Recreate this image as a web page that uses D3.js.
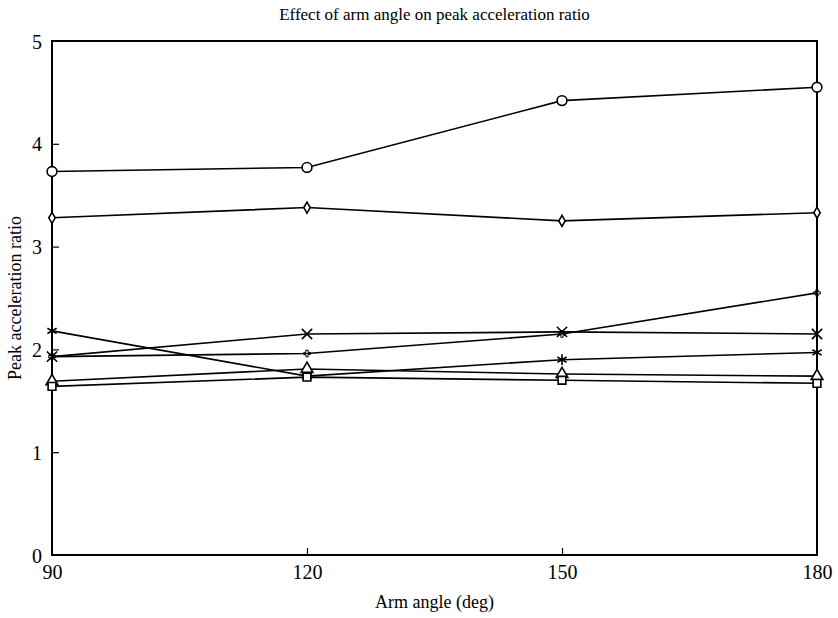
<!DOCTYPE html>
<html>
<head>
<meta charset="utf-8">
<script src="https://cdn.jsdelivr.net/npm/d3@7"></script>
<style>
  body { margin: 0; background: #fff; }
  text { font-family: "Liberation Serif", "DejaVu Serif", serif; fill: #000; }
</style>
</head>
<body>
<div id="chart"></div>
<script>
// Data
const angles = [90, 120, 150, 180];
const circleVals   = [3.73, 3.77, 4.42, 4.55];
const diamondVals  = [3.28, 3.38, 3.25, 3.33];
const crossVals    = [1.93, 2.15, 2.17, 2.15];
const plusVals     = [1.93, 1.96, 2.15, 2.55];
const starVals     = [2.18, 1.74, 1.90, 1.97];
const triangleVals = [1.69, 1.81, 1.76, 1.74];
const squareVals   = [1.64, 1.73, 1.70, 1.67];
const yTicks = [0, 1, 2, 3, 4, 5];
const xTicks = [90, 120, 150, 180];

const series = [
  { name: "circle", vals: circleVals },
  { name: "diamond", vals: diamondVals },
  { name: "cross", vals: crossVals },
  { name: "plus", vals: plusVals },
  { name: "star", vals: starVals },
  { name: "triangle", vals: triangleVals },
  { name: "square", vals: squareVals }
];

// Layout
let margin = { top: 41, right: 21, bottom: 63, left: 52 };
let svgWidth = 838, svgHeight = 618;
let chartWidth = svgWidth - margin.left - margin.right;
let chartHeight = svgHeight - margin.top - margin.bottom;

let svg = d3.select('#chart')
            .append('svg')
            .attr('width', svgWidth)
            .attr('height', svgHeight);

let chartGrp = svg.append('g')
            .attr('transform', `translate(${margin.left}, ${margin.top})`);

let xScale = d3.scaleLinear().domain([90, 180]).range([0, chartWidth]);
let yScale = d3.scaleLinear().domain([0, 5]).range([chartHeight, 0]);

// Axes with inward ticks
let xAxis = d3.axisBottom(xScale).tickValues(xTicks).tickSize(-7).tickPadding(13).tickFormat(d3.format('d'));
let yAxis = d3.axisLeft(yScale).tickValues(yTicks).tickSize(-7).tickPadding(10).tickFormat(d3.format('d'));

let gx = chartGrp.append('g')
    .attr('transform', `translate(0, ${chartHeight})`)
    .call(xAxis);
let gy = chartGrp.append('g').call(yAxis);

[gx, gy].forEach(g => {
  g.select('.domain').remove();
  g.selectAll('.tick line').attr('stroke', '#000').attr('stroke-width', 1.2);
  g.selectAll('.tick text').attr('font-size', 20).attr('font-family', '"Liberation Serif", serif');
});
gx.selectAll('.tick text').attr('dy', '0.55em');
gy.selectAll('.tick text').attr('dy', '0.35em');
// hide end ticks on the frame corners
gx.selectAll('.tick line').filter(d => d === 90 || d === 180).remove();
gy.selectAll('.tick line').filter(d => d === 0 || d === 5).remove();

// Frame
chartGrp.append('rect')
    .attr('x', 0).attr('y', 0)
    .attr('width', chartWidth).attr('height', chartHeight)
    .attr('fill', 'none')
    .attr('stroke', '#000')
    .attr('stroke-width', 2);

// Lines
let line = d3.line()
    .x((d, i) => xScale(angles[i]))
    .y(d => yScale(d));

chartGrp.selectAll('.series')
    .data(series)
    .enter()
    .append('path')
    .attr('class', 'series')
    .attr('d', d => line(d.vals))
    .attr('fill', 'none')
    .attr('stroke', '#000')
    .attr('stroke-width', 1.6);

// Markers
const symbolMap = {
  circle: d3.symbolCircle,
  diamond: d3.symbolDiamond,
  cross: d3.symbolX,
  plus: d3.symbolCross,
  star: d3.symbolAsterisk,
  triangle: d3.symbolTriangle,
  square: d3.symbolSquare
};
const sizeMap = { circle: 75, diamond: 35, cross: 70, plus: 25, star: 80, triangle: 60, square: 60 };
const openSyms = ['circle', 'diamond', 'triangle', 'square'];

series.forEach(s => {
  chartGrp.selectAll(`.m-${s.name}`)
      .data(s.vals)
      .enter()
      .append('path')
      .attr('class', `m-${s.name}`)
      .attr('transform', (d, i) => `translate(${xScale(angles[i])}, ${yScale(d)})`)
      .attr('d', d3.symbol().type(symbolMap[s.name]).size(sizeMap[s.name]))
      .attr('fill', openSyms.includes(s.name) ? '#fff' : 'none')
      .attr('stroke', '#000')
      .attr('stroke-width', s.name === 'plus' ? 1 : 1.6);
});

// Title and labels
svg.append('text')
    .attr('x', margin.left + chartWidth / 2)
    .attr('y', 20)
    .attr('text-anchor', 'middle')
    .attr('font-size', 17)
    .text('Effect of arm angle on peak acceleration ratio');

svg.append('text')
    .attr('x', margin.left + chartWidth / 2)
    .attr('y', 608)
    .attr('text-anchor', 'middle')
    .attr('font-size', 18)
    .text('Arm angle (deg)');

svg.append('text')
    .attr('transform', `translate(21, ${margin.top + chartHeight / 2}) rotate(-90)`)
    .attr('text-anchor', 'middle')
    .attr('font-size', 18)
    .text('Peak acceleration ratio');
</script>
</body>
</html>
